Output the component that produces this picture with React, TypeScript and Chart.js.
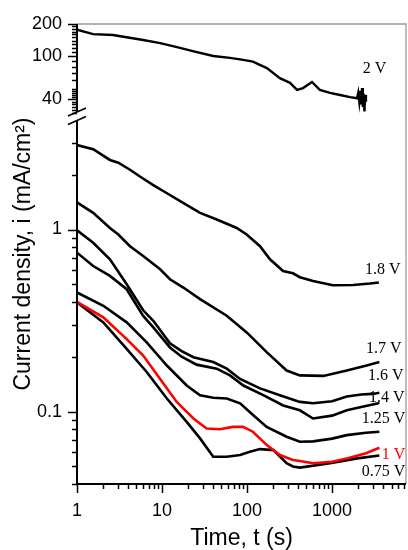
import React, { useEffect, useRef } from 'react';
import { Chart, registerables } from 'chart.js';

Chart.register(...registerables);

// ---- data (time in s, current density in mA/cm2) ----
const t2V = [1, 1.55, 2.65, 6, 9.5, 15, 23, 40, 63, 90, 117, 171, 243, 320, 387, 455, 580, 718, 945, 1240, 1630, 1970, 2030, 2090, 2150, 2200, 2250, 2300, 2350, 2400, 2450, 2500];
const i2V = [177, 161, 158, 142, 133, 122, 112, 101, 97, 93, 89.5, 78, 63, 57, 49, 51, 58, 49, 46, 44, 42, 41, 46, 38, 48, 36, 51, 34, 45, 31, 44, 38];

const t18 = [1, 1.55, 2.44, 3.06, 4.2, 5.5, 7.8, 11.3, 17.7, 28, 44, 75.5, 99, 142, 186, 265, 346, 418, 597, 1020, 1770, 2800, 3550];
const i18 = [2.91, 2.76, 2.41, 2.33, 2.13, 1.955, 1.76, 1.587, 1.4, 1.234, 1.134, 1.02, 0.939, 0.81, 0.686, 0.592, 0.575, 0.547, 0.522, 0.494, 0.496, 0.505, 0.512];

const t17 = [1, 1.55, 2.44, 3.06, 4.2, 6.0, 9.5, 12.4, 17.8, 28, 57.7, 99, 170, 292, 418, 790, 1490, 2550, 3600];
const i17 = [1.41, 1.234, 1.02, 0.939, 0.81, 0.715, 0.605, 0.533, 0.48, 0.415, 0.336, 0.272, 0.212, 0.168, 0.158, 0.157, 0.168, 0.179, 0.187];

const t16 = [1, 1.55, 2.44, 3.84, 6, 7.9, 12.4, 17, 23.4, 40, 57.7, 82.8, 142, 243, 418, 597, 1000, 1490, 2200, 3000, 3600];
const i16 = [0.99, 0.846, 0.686, 0.5, 0.36, 0.315, 0.237, 0.215, 0.199, 0.187, 0.172, 0.151, 0.134, 0.123, 0.113, 0.111, 0.114, 0.121, 0.124, 0.125, 0.127];

const t14 = [1, 1.55, 2.44, 3.84, 6.0, 7.9, 12.4, 17, 25.5, 44, 63, 90.5, 155, 266, 418, 597, 1000, 1490, 2200, 3400, 3600];
const i14 = [0.746, 0.63, 0.556, 0.47, 0.335, 0.29, 0.225, 0.2, 0.181, 0.172, 0.158, 0.139, 0.123, 0.108, 0.1016, 0.0916, 0.095, 0.1017, 0.106, 0.1106, 0.112];

const t125 = [1, 2.04, 3.84, 6.6, 11.4, 19.5, 28, 40, 57.7, 82.8, 118.5, 170, 292, 418, 597, 1000, 1490, 2500, 3600];
const i125 = [0.451, 0.381, 0.309, 0.24, 0.179, 0.139, 0.123, 0.119, 0.118, 0.111, 0.0955, 0.0824, 0.0727, 0.0683, 0.0686, 0.071, 0.0742, 0.0765, 0.0775];

const t1 = [1, 2.04, 3.84, 6.0, 9.5, 14.9, 23.4, 33.4, 47.6, 68, 89.7, 117, 171, 243, 346, 418, 597, 1000, 1490, 2500, 3600];
const i1 = [0.4, 0.329, 0.25, 0.203, 0.151, 0.113, 0.0916, 0.0807, 0.08, 0.0824, 0.0824, 0.0775, 0.0654, 0.0577, 0.0542, 0.0535, 0.052, 0.053, 0.0553, 0.059, 0.0633];

const t075 = [1, 2.04, 3.84, 6.6, 11.4, 19.5, 28, 40, 57.7, 82.8, 108, 142, 204, 292, 346, 418, 945, 1970, 3600];
const i075 = [0.398, 0.309, 0.221, 0.165, 0.118, 0.0878, 0.0712, 0.0565, 0.0565, 0.0577, 0.0601, 0.0622, 0.0614, 0.052, 0.0499, 0.0492, 0.052, 0.0553, 0.0573];

// series labels and their anchor points (data units)
const seriesNames = ['2 V', '1.8 V', '1.7 V', '1.6 V', '1.4 V', '1.25 V', '1 V', '0.75 V'];
const seriesColors = ['#000000', '#000000', '#000000', '#000000', '#000000', '#000000', '#ff0000', '#000000'];
const labelT = [2297, 2445, 2512, 2653, 2722, 2235, 3845, 2235];
const labelI = [76.6, 0.597, 0.221, 0.157, 0.119, 0.0909, 0.0582, 0.0464];

// ticks
const xTicks = [1, 2, 3, 4, 5, 6, 7, 8, 9, 10, 20, 30, 40, 50, 60, 70, 80, 90, 100, 200, 300, 400, 500, 600, 700, 800, 900, 1000, 2000, 3000, 4000, 5000, 6000, 7000];
const xTickLabels = [1, 10, 100, 1000];
const yLowTicks = [3, 2, 1, 0.9, 0.8, 0.7, 0.6, 0.5, 0.4, 0.3, 0.2, 0.1, 0.09, 0.08, 0.07, 0.06, 0.05, 0.04];
const yLowLabels = [1, 0.1];
const yTopTicks = [200, 190, 180, 170, 160, 150, 140, 130, 120, 110, 100, 90, 80, 70, 60, 50, 48, 46, 44, 42, 40, 38, 36, 34, 32, 30];
const yTopLabels = [200, 100, 40];

const X_MIN = 1;
const X_MAX = 7400;
const Y_LOW_MIN = 0.04;
const Y_LOW_MAX = 4.15;
const Y_TOP_MIN = 27.5;
const Y_TOP_MAX = 200;

const yTitle = 'Current density, i (mA/cm²)';
const xTitle = 'Time, t (s)';

function pts(t: number[], v: number[]) {
  return t.map((tt, k) => ({ x: tt, y: v[k] }));
}

const brokenAxesPlugin = {
  id: 'brokenAxes',
  afterDatasetsDraw(chart: any) {
    const ctx = chart.ctx as CanvasRenderingContext2D;
    const sx = chart.scales.x;
    const sy = chart.scales.y;
    const st = chart.scales.yTop;
    const area = chart.chartArea;
    const ax = area.left;
    const boundary = st.bottom;
    ctx.save();
    // grey frame (top and right)
    ctx.strokeStyle = '#9a9a9a';
    ctx.lineWidth = 1.3;
    ctx.beginPath();
    ctx.moveTo(ax, area.top);
    ctx.lineTo(area.right, area.top);
    ctx.lineTo(area.right, area.bottom);
    ctx.stroke();
    // black axes
    ctx.strokeStyle = '#000';
    ctx.lineWidth = 2;
    ctx.beginPath();
    ctx.moveTo(ax - 1, area.bottom);
    ctx.lineTo(area.right, area.bottom);
    ctx.stroke();
    ctx.beginPath();
    ctx.moveTo(ax, area.top);
    ctx.lineTo(ax, boundary - 5);
    ctx.moveTo(ax, boundary + 3.5);
    ctx.lineTo(ax, area.bottom);
    ctx.stroke();
    // break marks
    ctx.lineWidth = 1.6;
    ctx.beginPath();
    ctx.moveTo(ax - 9, boundary - 1);
    ctx.lineTo(ax + 9, boundary - 9);
    ctx.moveTo(ax - 9, boundary + 7.5);
    ctx.lineTo(ax + 9, boundary - 0.5);
    ctx.stroke();
    // ticks
    ctx.lineWidth = 1.5;
    ctx.beginPath();
    for (const tk of sx.ticks) {
      const v = tk.value;
      if (v < X_MIN || v > X_MAX) continue;
      const px = Math.round(sx.getPixelForValue(v)) + 0.5;
      const len = xTickLabels.includes(v) ? 9 : 5;
      ctx.moveTo(px, area.bottom);
      ctx.lineTo(px, area.bottom + len);
    }
    for (const tk of sy.ticks) {
      const v = tk.value;
      if (v < Y_LOW_MIN || v > Y_LOW_MAX) continue;
      const py = Math.round(sy.getPixelForValue(v)) + 0.5;
      const len = yLowLabels.includes(v) ? 9 : 5;
      ctx.moveTo(ax, py);
      ctx.lineTo(ax - len, py);
    }
    for (const tk of st.ticks) {
      const v = tk.value;
      if (v < Y_TOP_MIN || v > Y_TOP_MAX) continue;
      const py = Math.round(st.getPixelForValue(v)) + 0.5;
      const len = yTopLabels.includes(v) ? 9 : 5;
      ctx.moveTo(ax, py);
      ctx.lineTo(ax - len, py);
    }
    ctx.stroke();
    // series labels
    ctx.font = '16px "Liberation Serif"';
    ctx.textAlign = 'left';
    ctx.textBaseline = 'middle';
    seriesNames.forEach((name, k) => {
      const scale = k === 0 ? st : sy;
      const px = sx.getPixelForValue(labelT[k]);
      const py = scale.getPixelForValue(labelI[k]);
      ctx.fillStyle = seriesColors[k];
      ctx.fillText(name, px, py);
    });
    // y title
    ctx.fillStyle = '#000';
    ctx.font = '23px "Liberation Sans"';
    ctx.textAlign = 'center';
    ctx.textBaseline = 'middle';
    ctx.translate(24, (area.top + area.bottom) / 2);
    ctx.rotate(-Math.PI / 2);
    ctx.fillText(yTitle, 0, 0);
    ctx.restore();
  },
};

function makeTicks(values: number[]) {
  return (scale: any) => {
    scale.ticks = values.map((v) => ({ value: v }));
  };
}

function labelCb(labels: number[]) {
  return (value: any) => {
    const v = Number(value);
    return labels.includes(v) ? String(v) : '';
  };
}

function noPad(s: any) {
  s.paddingLeft = 0;
  s.paddingRight = 0;
  s.paddingTop = 0;
  s.paddingBottom = 0;
}

export default function App() {
  const ref = useRef<HTMLCanvasElement | null>(null);
  useEffect(() => {
    if (!ref.current) return;
    const lowSeries = [
      [t18, i18],
      [t17, i17],
      [t16, i16],
      [t14, i14],
      [t125, i125],
      [t1, i1],
      [t075, i075],
    ];
    const datasets: any[] = [
      {
        label: seriesNames[0],
        data: pts(t2V, i2V),
        yAxisID: 'yTop',
        borderColor: seriesColors[0],
        borderWidth: 2.4,
        pointRadius: 0,
        tension: 0,
      },
      ...lowSeries.map((s, k) => ({
        label: seriesNames[k + 1],
        data: pts(s[0], s[1]),
        yAxisID: 'y',
        borderColor: seriesColors[k + 1],
        borderWidth: 2.6,
        pointRadius: 0,
        tension: 0,
      })),
    ];
    const tickFont = { family: '"Liberation Sans"', size: 18 };
    const chart = new Chart(ref.current, {
      type: 'line',
      data: { datasets },
      options: {
        responsive: false,
        animation: false,
        devicePixelRatio: 1,
        layout: { autoPadding: false, padding: { left: 0, right: 2, top: 24, bottom: 0 } },
        plugins: { legend: { display: false }, tooltip: { enabled: false } },
        scales: {
          x: {
            type: 'logarithmic',
            position: 'bottom',
            min: X_MIN,
            max: X_MAX,
            grid: { display: false, drawTicks: false },
            border: { display: false },
            afterBuildTicks: makeTicks(xTicks),
            afterFit: (s: any) => { s.height = 66; noPad(s); },
            ticks: {
              autoSkip: false,
              maxRotation: 0,
              padding: 16,
              color: '#000',
              font: tickFont,
              callback: labelCb(xTickLabels),
            },
            title: {
              display: true,
              text: xTitle,
              color: '#000',
              font: { family: '"Liberation Sans"', size: 23, lineHeight: 1 },
              padding: { top: 0, bottom: 0 },
            },
          },
          y: {
            type: 'logarithmic',
            position: 'left',
            stack: 'v',
            stackWeight: 367,
            min: Y_LOW_MIN,
            max: Y_LOW_MAX,
            grid: { display: false, drawTicks: false },
            border: { display: false },
            afterBuildTicks: makeTicks(yLowTicks),
            afterFit: (s: any) => { s.width = 77; noPad(s); },
            ticks: {
              autoSkip: false,
              padding: 15,
              color: '#000',
              font: tickFont,
              callback: labelCb(yLowLabels),
            },
          },
          yTop: {
            type: 'logarithmic',
            position: 'left',
            stack: 'v',
            stackWeight: 93,
            min: Y_TOP_MIN,
            max: Y_TOP_MAX,
            grid: { display: false, drawTicks: false },
            border: { display: false },
            afterBuildTicks: makeTicks(yTopTicks),
            afterFit: (s: any) => { s.width = 77; noPad(s); },
            ticks: {
              autoSkip: false,
              padding: 15,
              color: '#000',
              font: tickFont,
              callback: labelCb(yTopLabels),
            },
          },
        },
      } as any,
      plugins: [brokenAxesPlugin],
    });
    return () => chart.destroy();
  }, []);
  return (
    <div style={{ position: 'fixed', left: 0, top: 0, width: 408, height: 550, background: '#fff' }}>
      <canvas ref={ref} width={408} height={550} style={{ display: 'block' }} />
    </div>
  );
}
